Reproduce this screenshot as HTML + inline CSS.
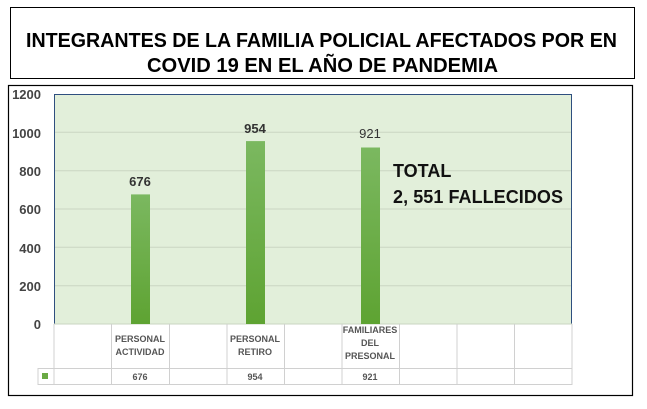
<!DOCTYPE html>
<html><head><meta charset="utf-8"><style>
body{margin:0;width:647px;height:404px;background:#fff;font-family:"Liberation Sans",sans-serif;overflow:hidden}
</style></head><body>
<svg width="647" height="404" xmlns="http://www.w3.org/2000/svg" font-family="Liberation Sans, sans-serif">
<rect x="10.5" y="7.5" width="624" height="71" fill="#fff" stroke="#000" stroke-width="1"/>
<text x="26" y="47" font-size="20" font-weight="bold" fill="#000" textLength="591" lengthAdjust="spacingAndGlyphs">INTEGRANTES DE LA FAMILIA POLICIAL AFECTADOS POR EN</text>
<text x="147" y="72" font-size="20" font-weight="bold" fill="#000" textLength="351" lengthAdjust="spacingAndGlyphs">COVID 19 EN EL AÑO DE PANDEMIA</text>
<rect x="8.5" y="85.5" width="624" height="310" fill="#fff" stroke="#000" stroke-width="1.2"/>
<rect x="54" y="94" width="518" height="230" fill="#e2efda"/>
<g stroke="#c9d6c1" stroke-width="1">
<line x1="54" x2="572" y1="285.7" y2="285.7"/><line x1="54" x2="572" y1="247.3" y2="247.3"/>
<line x1="54" x2="572" y1="209" y2="209"/><line x1="54" x2="572" y1="170.7" y2="170.7"/>
<line x1="54" x2="572" y1="132.3" y2="132.3"/>
</g>
<path d="M54.5 324 V94.5 H571.5 V324" fill="none" stroke="#2f4f7f" stroke-width="1"/>
<line x1="54" x2="572" y1="324" y2="324" stroke="#c9d6c1"/>
<defs><linearGradient id="g" x1="0" y1="0" x2="0" y2="1"><stop offset="0" stop-color="#7bb860"/><stop offset="1" stop-color="#5ea332"/></linearGradient></defs>
<rect x="131" y="194.4" width="19" height="129.6" fill="url(#g)"/>
<rect x="246" y="141.1" width="19" height="182.9" fill="url(#g)"/>
<rect x="361" y="147.5" width="19" height="176.5" fill="url(#g)"/>
<g font-size="13" font-weight="bold" fill="#444" text-anchor="end">
<text x="41" y="99">1200</text><text x="41" y="138">1000</text><text x="41" y="176">800</text>
<text x="41" y="214">600</text><text x="41" y="253">400</text><text x="41" y="291">200</text><text x="41" y="329">0</text>
</g>
<g font-size="13" font-weight="bold" fill="#333" text-anchor="middle">
<text x="140" y="186">676</text><text x="255" y="133">954</text><text x="370" y="138" font-weight="normal">921</text>
</g>
<text x="393" y="177" font-size="18" font-weight="bold" fill="#111">TOTAL</text>
<text x="393" y="203" font-size="18" font-weight="bold" fill="#111" textLength="170" lengthAdjust="spacing">2, 551  FALLECIDOS</text>
<g stroke="#d0d0d0" stroke-width="1">
<line x1="54" x2="54" y1="324" y2="385"/>
<line x1="111.5" x2="111.5" y1="324" y2="385"/><line x1="169.5" x2="169.5" y1="324" y2="385"/>
<line x1="227" x2="227" y1="324" y2="385"/><line x1="284.5" x2="284.5" y1="324" y2="385"/>
<line x1="342" x2="342" y1="324" y2="385"/><line x1="399.5" x2="399.5" y1="324" y2="385"/>
<line x1="457" x2="457" y1="324" y2="385"/><line x1="514.5" x2="514.5" y1="324" y2="385"/>
<line x1="572" x2="572" y1="324" y2="385"/>
<line x1="38" x2="572" y1="368.5" y2="368.5"/><line x1="38" x2="572" y1="384.5" y2="384.5"/>
<line x1="38" x2="38" y1="368" y2="385"/>
</g>
<rect x="42" y="373" width="6" height="6" fill="#6aaa44"/>
<g font-size="9" font-weight="bold" fill="#555" text-anchor="middle">
<text x="140" y="342">PERSONAL</text><text x="140" y="355">ACTIVIDAD</text>
<text x="255" y="342">PERSONAL</text><text x="255" y="355">RETIRO</text>
<text x="370" y="333">FAMILIARES</text><text x="370" y="346">DEL</text><text x="370" y="359">PRESONAL</text>
<text x="140" y="380">676</text><text x="255" y="380">954</text><text x="370" y="380">921</text>
</g>
</svg>
</body></html>
